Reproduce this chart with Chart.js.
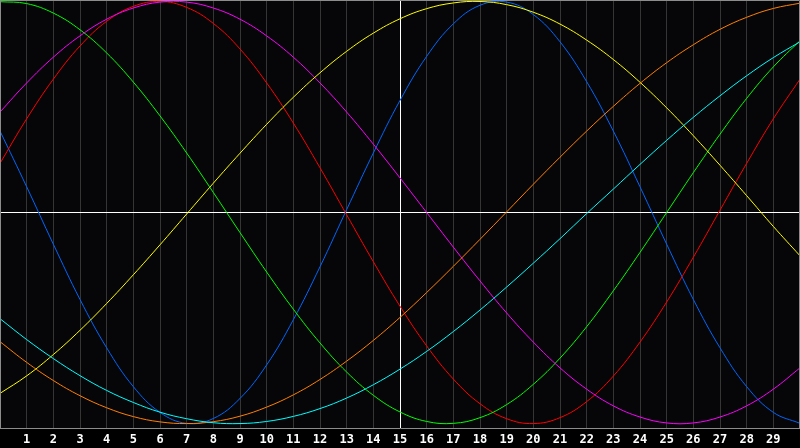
<!DOCTYPE html>
<html>
<head>
<meta charset="utf-8">
<script src="https://cdn.jsdelivr.net/npm/chart.js@4/dist/chart.umd.min.js"></script>
<style>
	html, body { margin: 0; padding: 0; background: #000; }
	#wrap { width: 800px; height: 448px; }
</style>
</head>
<body>
<div id="wrap"><canvas id="myChart" width="800" height="448"></canvas></div>
<script>
'use strict';
// *** Data ***
const aryDays = [0, 1, 2, 3, 4, 5, 6, 7, 8, 9, 10, 11, 12, 13, 14, 15, 16, 17, 18, 19, 20, 21, 22, 23, 24, 25, 26, 27, 28, 29, 30];
const aryTickLabels = ['', '1', '2', '3', '4', '5', '6', '7', '8', '9', '10', '11', '12', '13', '14', '15', '16', '17', '18', '19', '20', '21', '22', '23', '24', '25', '26', '27', '28', '29', ''];

const aryBlue = [0.386, 0.122, -0.150, -0.412, -0.641, -0.825, -0.947, -0.999, -0.976, -0.881, -0.722, -0.508, -0.257, 0.014, 0.282, 0.531, 0.740, 0.894, 0.982, 0.997, 0.938, 0.809, 0.620, 0.386, 0.122, -0.150, -0.412, -0.641, -0.825, -0.947, -0.999];
const aryRed = [0.233, 0.444, 0.632, 0.789, 0.906, 0.977, 1.000, 0.972, 0.896, 0.775, 0.614, 0.424, 0.212, -0.011, -0.233, -0.444, -0.632, -0.789, -0.906, -0.977, -1.000, -0.972, -0.896, -0.775, -0.614, -0.424, -0.212, 0.011, 0.233, 0.444, 0.632];
const aryGreen = [0.999, 0.990, 0.945, 0.866, 0.756, 0.618, 0.458, 0.282, 0.095, -0.095, -0.282, -0.458, -0.618, -0.756, -0.866, -0.945, -0.990, -0.999, -0.972, -0.910, -0.814, -0.690, -0.541, -0.371, -0.189, 0.000, 0.189, 0.371, 0.541, 0.690, 0.814];
const aryMagenta = [0.476, 0.614, 0.736, 0.837, 0.916, 0.969, 0.997, 0.997, 0.969, 0.916, 0.837, 0.736, 0.614, 0.476, 0.324, 0.164, 0.000, -0.164, -0.324, -0.476, -0.614, -0.736, -0.837, -0.916, -0.969, -0.997, -0.997, -0.969, -0.916, -0.837, -0.736];
const aryYellow = [-0.857, -0.774, -0.673, -0.558, -0.431, -0.295, -0.153, -0.007, 0.139, 0.281, 0.418, 0.546, 0.662, 0.764, 0.850, 0.918, 0.966, 0.993, 1.000, 0.985, 0.949, 0.893, 0.817, 0.725, 0.617, 0.496, 0.364, 0.224, 0.080, -0.066, -0.205];
const aryOrange = [-0.612, -0.710, -0.796, -0.868, -0.925, -0.967, -0.992, -1.000, -0.991, -0.965, -0.922, -0.864, -0.791, -0.704, -0.606, -0.497, -0.379, -0.255, -0.127, 0.003, 0.134, 0.262, 0.386, 0.503, 0.612, 0.710, 0.795, 0.868, 0.925, 0.967, 0.992];
const aryCyan = [-0.503, -0.602, -0.692, -0.773, -0.843, -0.900, -0.946, -0.977, -0.996, -1.000, -0.990, -0.966, -0.929, -0.879, -0.816, -0.742, -0.658, -0.564, -0.462, -0.353, -0.240, -0.124, -0.005, 0.111, 0.228, 0.342, 0.451, 0.553, 0.648, 0.734, 0.809];

function toPoints(_ary) {
	return aryDays.map((d, i) => ({ x: d, y: _ary[i] }));
}

function prepareDataSets() {
	let aryDataSets = [];
	const aryLines = [
		{ data: aryCyan, color: '#00ffff' },
		{ data: aryOrange, color: '#ff8000' },
		{ data: aryYellow, color: '#ffff00' },
		{ data: aryMagenta, color: '#ff00ff' },
		{ data: aryGreen, color: '#00ff00' },
		{ data: aryRed, color: '#ff0000' },
		{ data: aryBlue, color: '#0066ff' },
	];
	aryLines.forEach((item) => {
		aryDataSets.push({
			data: toPoints(item.data),
			borderColor: item.color,
			backgroundColor: item.color,
			borderWidth: 1,
			pointRadius: 0,
			tension: 0.4,
			fill: false,
		});
	});
	return aryDataSets;
}

// black canvas, very dark plot area, grey frame
const bgPlugin = {
	id: 'bgPlugin',
	beforeDraw(chart) {
		const ctx = chart.ctx;
		const a = chart.chartArea;
		ctx.save();
		ctx.fillStyle = '#000000';
		ctx.fillRect(0, 0, chart.width, chart.height);
		ctx.fillStyle = '#060609';
		ctx.fillRect(a.left, a.top, a.right - a.left, a.bottom - a.top);
		ctx.restore();
	},
	afterDraw(chart) {
		const ctx = chart.ctx;
		const a = chart.chartArea;
		ctx.save();
		ctx.strokeStyle = '#8c8c8c';
		ctx.lineWidth = 1;
		ctx.beginPath();
		ctx.moveTo(a.left + 0.5, a.bottom);
		ctx.lineTo(a.left + 0.5, a.top + 0.5);
		ctx.lineTo(a.right - 0.5, a.top + 0.5);
		ctx.lineTo(a.right - 0.5, a.bottom);
		ctx.stroke();
		ctx.restore();
	},
};

function prepareOptions() {
	return {
		responsive: false,
		animation: false,
		devicePixelRatio: 1,
		layout: { padding: 0, autoPadding: false },
		plugins: {
			legend: { display: false },
			tooltip: { enabled: false },
		},
		scales: {
			x: {
				type: 'linear',
				min: 0,
				max: 30,
				afterBuildTicks: (scale) => {
					scale.ticks = aryDays.map((d) => ({ value: d }));
				},
				afterFit: (scale) => {
					scale.height = 20;
					scale.paddingLeft = 0;
					scale.paddingRight = 0;
				},
				ticks: {
					color: '#ffffff',
					padding: 5,
					maxRotation: 0,
					autoSkip: false,
					font: { family: 'DejaVu Sans Mono', size: 12, weight: 'bold' },
					callback: (value, index) => aryTickLabels[index],
				},
				grid: {
					drawTicks: false,
					lineWidth: 1,
					color: (c) => {
						const v = c.tick ? c.tick.value : 0;
						if (v === 15) return '#ffffff';
						if (v === 0 || v === 30) return '#8c8c8c';
						return '#353535';
					},
				},
				border: { display: true, color: '#8c8c8c', width: 1 },
			},
			y: {
				type: 'linear',
				min: -1.021,
				max: 1.007,
				afterBuildTicks: (scale) => {
					scale.ticks = [{ value: 0 }];
				},
				afterFit: (scale) => {
					scale.width = 0;
				},
				ticks: { display: false },
				grid: {
					drawTicks: false,
					color: '#ffffff',
					lineWidth: 1,
				},
				border: { display: false },
			},
		},
	};
}

function chartIt() {
	const config = {
		type: 'line',
		data: { datasets: prepareDataSets() },
		options: prepareOptions(),
		plugins: [bgPlugin],
	};
	return new Chart(document.getElementById('myChart'), config);
}

// *** Entry Point ***
chartIt();
</script>
</body>
</html>
